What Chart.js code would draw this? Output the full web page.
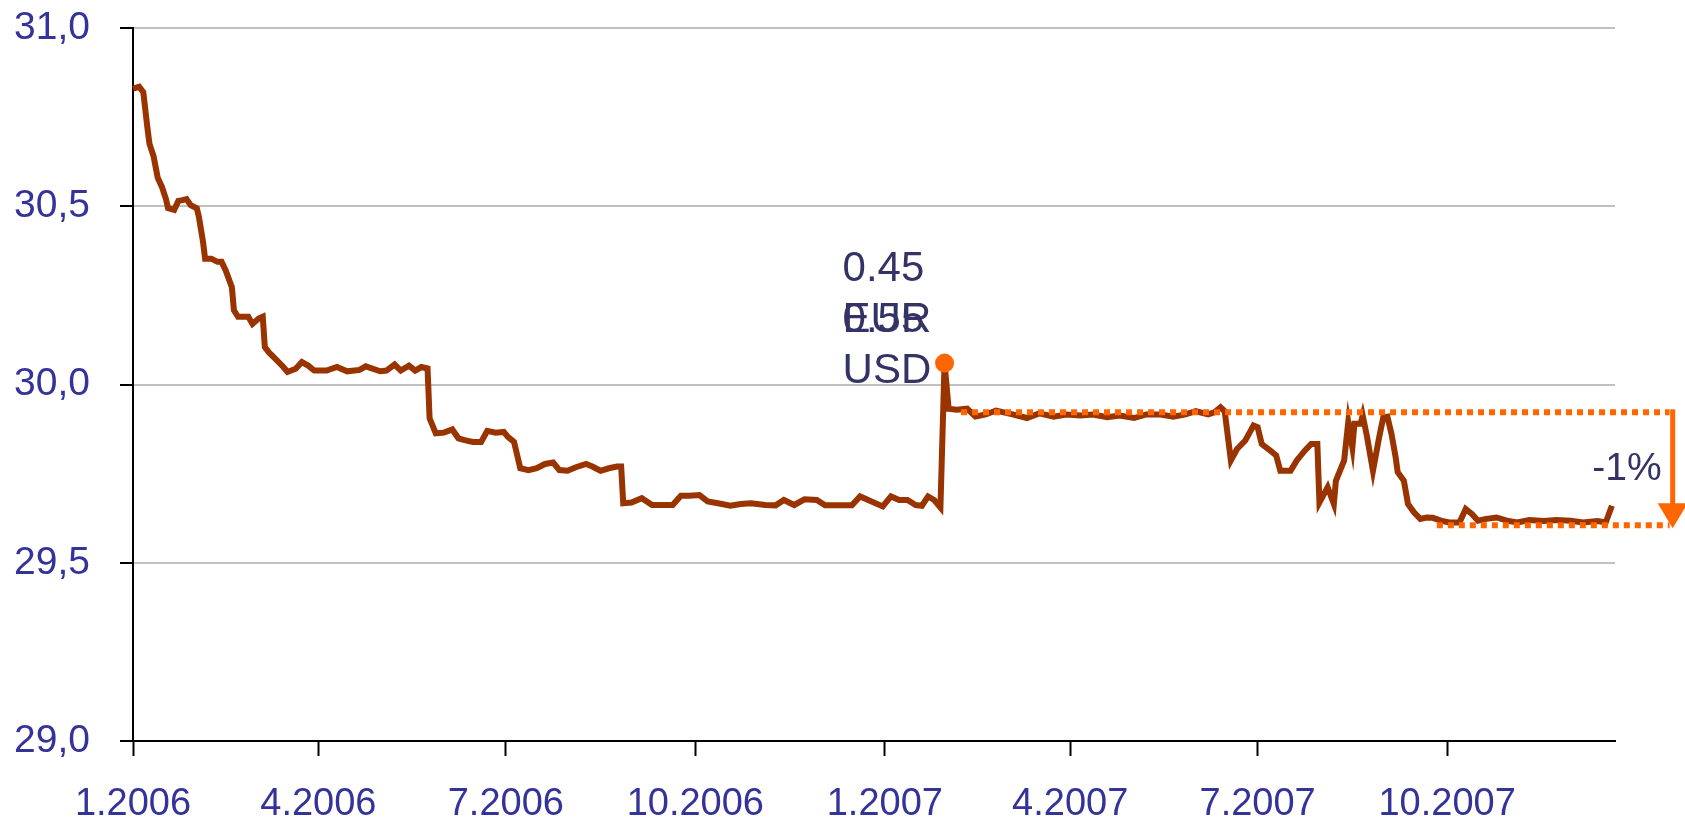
<!DOCTYPE html>
<html>
<head>
<meta charset="utf-8">
<title>Kurs</title>
<script src="https://cdn.jsdelivr.net/npm/chart.js@4.4.1/dist/chart.umd.min.js"></script>
<style>
  html, body { margin: 0; padding: 0; background: #fff; }
  #wrap { width: 1685px; height: 820px; position: relative; }
</style>
</head>
<body>
<div id="wrap"><canvas id="chart"></canvas></div>
<script>
// days counted from 1 Jan 2006
const days = [
  0, 3, 5, 7, 8, 10, 12, 14, 16, 17, 20, 22, 24, 26, 28, 31, 32, 34, 35, 38,
  41, 43, 45, 48, 49, 51, 56, 58, 61, 63, 64, 66, 70, 73, 75, 79, 82, 85, 88, 94,
  99, 104, 110, 113, 120, 123, 127, 130, 134, 137, 140, 143, 144, 147, 151, 155, 158, 161, 165, 169,
  172, 176, 180, 182, 185, 188, 192, 196, 200, 204, 207, 211, 215, 220, 223, 227, 231, 235, 237, 238,
  242, 247, 252, 257, 262, 266, 270, 275, 279, 284, 290, 295, 300, 307, 312, 316, 321, 326, 332, 336,
  342, 349, 353, 364, 368, 372, 376, 380, 383, 386, 389, 392, 394, 396, 400, 405, 409, 414, 419, 427,
  434, 440, 447, 453, 460, 466, 473, 479, 486, 492, 499, 505, 511, 516, 522, 525, 528, 530, 533, 536,
  540, 544, 546, 548, 552, 555, 557, 562, 565, 569, 572, 575, 576, 580, 583, 584, 588, 590, 592, 593,
  596, 597, 599, 602, 605, 607, 609, 611, 613, 614, 617, 619, 622, 625, 628, 631, 635, 639, 644, 647,
  650, 653, 657, 662, 667, 672, 678, 685, 691, 698, 704, 711, 715, 718
];
const rates = [
  30.83, 30.835, 30.82, 30.72, 30.675, 30.64, 30.58, 30.555, 30.52, 30.495, 30.49, 30.515, 30.517, 30.52, 30.503, 30.494, 30.47, 30.40, 30.353, 30.353,
  30.344, 30.344, 30.32, 30.273, 30.208, 30.19, 30.19, 30.17, 30.185, 30.19, 30.105, 30.09, 30.067, 30.049, 30.035, 30.044, 30.063, 30.053, 30.039, 30.039,
  30.049, 30.037, 30.041, 30.051, 30.037, 30.039, 30.056, 30.039, 30.053, 30.039, 30.049, 30.045, 29.905, 29.863, 29.865, 29.874, 29.849, 29.844, 29.839, 29.839,
  29.870, 29.865, 29.867, 29.853, 29.839, 29.765, 29.760, 29.765, 29.777, 29.781, 29.760, 29.758, 29.768, 29.777, 29.770, 29.758, 29.765, 29.770, 29.770, 29.667,
  29.669, 29.681, 29.662, 29.662, 29.662, 29.688, 29.688, 29.690, 29.672, 29.667, 29.660, 29.665, 29.667, 29.662, 29.661, 29.676, 29.662, 29.678, 29.676, 29.661,
  29.661, 29.661, 29.686, 29.658, 29.686, 29.676, 29.676, 29.662, 29.660, 29.686, 29.676, 29.655, 30.060, 29.932, 29.929, 29.932, 29.910, 29.916, 29.927, 29.916,
  29.906, 29.919, 29.910, 29.916, 29.913, 29.916, 29.908, 29.913, 29.906, 29.916, 29.916, 29.910, 29.916, 29.925, 29.916, 29.922, 29.936, 29.925, 29.787, 29.819,
  29.843, 29.885, 29.880, 29.833, 29.815, 29.801, 29.758, 29.758, 29.787, 29.815, 29.833, 29.833, 29.669, 29.712, 29.665, 29.730, 29.787, 29.894, 29.824, 29.890,
  29.890, 29.913, 29.857, 29.758, 29.852, 29.908, 29.910, 29.861, 29.796, 29.754, 29.730, 29.665, 29.641, 29.623, 29.627, 29.626, 29.618, 29.613, 29.613, 29.651,
  29.637, 29.618, 29.623, 29.627, 29.618, 29.613, 29.620, 29.617, 29.620, 29.618, 29.613, 29.617, 29.613, 29.660
];

const tickDays = [0, 90, 181, 273, 365, 455, 546, 638];
const tickLabels = ['1.2006', '4.2006', '7.2006', '10.2006', '1.2007', '4.2007', '7.2007', '10.2007'];

// reference levels (dotted lines) and the arrow between them
const highLevel = 29.922;
const lowLevel = 29.605;
const highSpan = [402, 746];
const lowSpan = [633, 746];
const arrowDay = 747.5;

const peakLabels = [['0.45', 'EUR'], ['0.55', 'USD']];

const series = days.map((d, i) => ({ x: d, y: rates[i] }));

// the 2007 peak gets the orange marker
let peakIdx = -1;
days.forEach((d, i) => {
  if (d >= 365 && (peakIdx < 0 || rates[i] > rates[peakIdx])) peakIdx = i;
});

const FONT = '"Liberation Sans", Arial, sans-serif';
const AXIS_BLUE = '#333399';
const NOTE_BLUE = '#333366';
const ORANGE = '#ff6600';

const notes = {
  id: 'notes',
  afterDatasetsDraw(chart) {
    const { ctx, scales: { x, y } } = chart;
    ctx.save();

    // arrow from the high level down to the low level
    const ax = x.getPixelForValue(arrowDay);
    const y1 = y.getPixelForValue(highLevel);
    const y2 = y.getPixelForValue(lowLevel);
    ctx.strokeStyle = ORANGE;
    ctx.fillStyle = ORANGE;
    ctx.lineWidth = 5;
    ctx.beginPath();
    ctx.moveTo(ax, y1 - 3);
    ctx.lineTo(ax, y2 - 20);
    ctx.stroke();
    ctx.beginPath();
    ctx.moveTo(ax - 15, y2 - 22);
    ctx.lineTo(ax + 15, y2 - 22);
    ctx.lineTo(ax, y2 + 3);
    ctx.closePath();
    ctx.fill();

    // percentage change
    const pct = Math.round((lowLevel - highLevel) / highLevel * 100);
    ctx.fillStyle = NOTE_BLUE;
    ctx.font = '39px ' + FONT;
    ctx.textAlign = 'right';
    ctx.textBaseline = 'middle';
    ctx.fillText(pct + '%', ax - 11, (y1 + y2) / 2);

    // overlapping data labels at the peak
    const pt = chart.getDatasetMeta(2).data[peakIdx];
    ctx.font = '42px ' + FONT;
    ctx.textAlign = 'left';
    ctx.textBaseline = 'alphabetic';
    peakLabels.forEach((lines, k) => {
      lines.forEach((t, j) => {
        ctx.fillText(t, pt.x - 102, pt.y - 82 + (k + j) * 51);
      });
    });
    ctx.restore();
  }
};

new Chart(document.getElementById('chart'), {
  type: 'line',
  data: {
    datasets: [
      {
        data: highSpan.map(d => ({ x: d, y: highLevel })),
        borderColor: ORANGE, borderWidth: 6, borderDash: [6, 5],
        pointRadius: 0, clip: false, order: 0
      },
      {
        data: lowSpan.map(d => ({ x: d, y: lowLevel })),
        borderColor: ORANGE, borderWidth: 6, borderDash: [6, 5],
        pointRadius: 0, clip: false, order: 0
      },
      {
        data: series,
        borderColor: '#993300', borderWidth: 6, tension: 0,
        borderJoinStyle: 'miter',
        pointRadius: ctx => ctx.dataIndex === peakIdx ? 9.5 : 0,
        pointBackgroundColor: ORANGE, pointBorderWidth: 0,
        clip: false, order: 1
      }
    ]
  },
  options: {
    responsive: true,
    maintainAspectRatio: false,
    animation: false,
    layout: { padding: { top: 28, right: 70, left: 0, bottom: 0 } },
    plugins: { legend: { display: false }, tooltip: { enabled: false } },
    scales: {
      x: {
        type: 'linear', min: 0, max: 719.5,
        afterBuildTicks: s => { s.ticks = tickDays.map(v => ({ value: v })); },
        afterFit: s => { s.height = 79; s.paddingLeft = 0; s.paddingRight = 0; },
        grid: { drawOnChartArea: false, drawTicks: true, tickLength: 15, tickColor: '#000', tickWidth: 2 },
        border: { color: '#000', width: 2 },
        ticks: {
          autoSkip: false, maxRotation: 0, padding: 26,
          color: AXIS_BLUE, font: { family: FONT, size: 38 },
          callback: (v, i) => tickLabels[i]
        }
      },
      y: {
        min: 29, max: 31,
        afterFit: s => { s.width = 133; s.paddingTop = 0; s.paddingBottom = 0; },
        grid: { color: '#c0c0c0', lineWidth: 2, tickColor: '#000', tickLength: 13, tickWidth: 2 },
        border: { color: '#000', width: 2 },
        ticks: {
          stepSize: 0.5, padding: 30,
          color: AXIS_BLUE, font: { family: FONT, size: 39 },
          callback: v => v.toFixed(1).replace('.', ',')
        }
      }
    }
  },
  plugins: [notes]
});
</script>
</body>
</html>
